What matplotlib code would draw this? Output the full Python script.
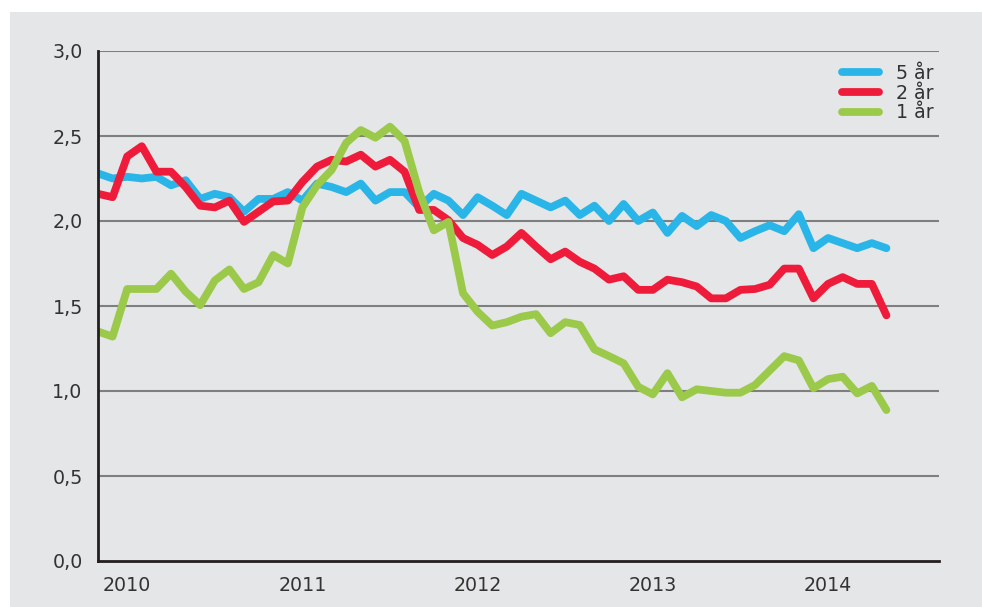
import numpy as np
import matplotlib
matplotlib.use("Agg")
import matplotlib.pyplot as plt
from matplotlib.patches import Rectangle

# monthly values, Nov 2009 .. May 2014
yr5 = [2.28, 2.25, 2.26, 2.25, 2.26, 2.21, 2.24, 2.13, 2.16, 2.14,
       2.055, 2.13, 2.13, 2.17, 2.12, 2.22, 2.20, 2.17, 2.22, 2.12,
       2.17, 2.17, 2.08, 2.16, 2.12, 2.035, 2.14, 2.09, 2.035, 2.16,
       2.12, 2.08, 2.12, 2.035, 2.09, 2.0, 2.10, 2.0, 2.05, 1.93,
       2.03, 1.97, 2.035, 2.0, 1.90, 1.94, 1.975, 1.94, 2.04, 1.84,
       1.90, 1.87, 1.84, 1.87, 1.84]
yr2 = [2.16, 2.14, 2.38, 2.44, 2.29, 2.29, 2.20, 2.09, 2.08, 2.12,
       1.995, 2.055, 2.115, 2.12, 2.23, 2.32, 2.36, 2.35, 2.39, 2.32,
       2.36, 2.29, 2.065, 2.065, 2.005, 1.90, 1.86, 1.80, 1.85, 1.93,
       1.85, 1.775, 1.82, 1.76, 1.72, 1.655, 1.675, 1.595, 1.595, 1.655,
       1.64, 1.615, 1.545, 1.545, 1.595, 1.60, 1.625, 1.72, 1.72, 1.545,
       1.63, 1.67, 1.63, 1.63, 1.445]
yr1 = [1.35, 1.32, 1.60, 1.60, 1.60, 1.69, 1.585, 1.505, 1.65, 1.715,
       1.60, 1.64, 1.80, 1.75, 2.08, 2.21, 2.30, 2.46, 2.535, 2.49,
       2.555, 2.47, 2.17, 1.945, 1.995, 1.575, 1.466, 1.385, 1.405, 1.437,
       1.452, 1.34, 1.405, 1.388, 1.245, 1.205, 1.163, 1.025, 0.98, 1.105,
       0.963, 1.01, 1.0, 0.99, 0.99, 1.035, 1.12, 1.205, 1.18, 1.016,
       1.07, 1.084, 0.986, 1.03, 0.888]
years = ["2010", "2011", "2012", "2013", "2014"]
year_idx = [2, 14, 26, 38, 50]
yticks = [0.0, 0.5, 1.0, 1.5, 2.0, 2.5, 3.0]

c_blue = "#29b5e8"; c_red = "#ee1b3b"; c_green = "#9bc94a"
bg = "#e5e6e8"; txt = "#333333"

fig = plt.figure(figsize=(9.82, 6.07), dpi=100, facecolor="white")
fig.patches.append(Rectangle((10/982, 0), 1, (607-12)/607, transform=fig.transFigure,
                             facecolor=bg, edgecolor="none", zorder=-5))
ax = fig.add_axes([98/982, 1-561/607, (939-98)/982, (561-51)/607])
ax.set_facecolor("none")
ax.set_zorder(2)

x = np.arange(len(yr5))
kw = dict(lw=5.6, solid_capstyle="round", solid_joinstyle="round")
ax.plot(x, yr5, color=c_blue, label="5 år", **kw)
ax.plot(x, yr2, color=c_red, label="2 år", **kw)
ax.plot(x, yr1, color=c_green, label="1 år", **kw)

ax.set_xlim(0, 57.6)
ax.set_ylim(0, 3.0)
ax.set_yticks(yticks)
ax.set_yticklabels([f"{v:.1f}".replace(".", ",") for v in yticks])
ax.set_xticks(year_idx)
ax.set_xticklabels(years)
ax.tick_params(length=0, labelsize=13.7, colors=txt)
ax.tick_params(axis="y", pad=11)
ax.tick_params(axis="x", pad=11)
for v in yticks[1:]:
    ax.axhline(v, color="#7f7f7f", lw=1.5, zorder=0.5)
for s in ["top", "right"]:
    ax.spines[s].set_visible(False)
ax.spines["left"].set_color("#231f20"); ax.spines["left"].set_linewidth(2.0)
ax.spines["bottom"].set_color("#231f20"); ax.spines["bottom"].set_linewidth(2.0)

leg = ax.legend(loc="upper right", bbox_to_anchor=(1.005, 0.994), frameon=False,
                fontsize=13.7, borderpad=0, labelspacing=0.05, handlelength=1.95,
                handletextpad=0.9, labelcolor=txt)
for h in leg.get_lines():
    h.set_linewidth(5.6); h.set_solid_capstyle("round")

fig.savefig("out.png", dpi=100, facecolor="white")
